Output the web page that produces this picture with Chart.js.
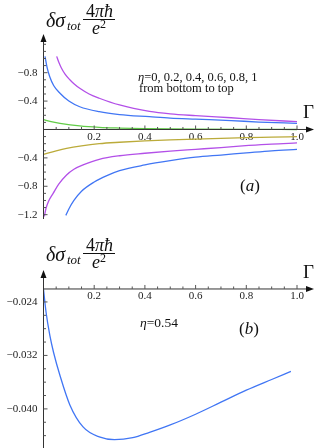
<!DOCTYPE html>
<html lang="en">
<head>
<meta charset="UTF-8">
<title>delta sigma tot vs Gamma</title>
<script src="https://cdn.jsdelivr.net/npm/chart.js"></script>
<style>
    body {
        margin: 0;
        background: #fff;
    }
    #wrap {
        position: relative;
        width: 316px;
        height: 448px;
        overflow: hidden;
        font-family: "Liberation Serif", serif;
        color: #111;
    }
    canvas {
        position: absolute;
        left: 0;
    }
    #chartA { top: 0; }
    #chartB { top: 235px; }
    .t {
        position: absolute;
        white-space: nowrap;
        line-height: 1;
    }
    .bar {
        position: absolute;
        height: 1px;
        background: #111;
    }
</style>
</head>
<body>
<div id="wrap">
    <canvas id="chartA" width="316" height="235"></canvas>
    <canvas id="chartB" width="316" height="227"></canvas>

    <!-- panel (a) labels -->
    <span class="t" style="left:46px; top:10px; font-size:20px; font-style:italic;">δσ</span>
    <span class="t" style="left:67px; top:19px; font-size:13px; font-style:italic;">tot</span>
    <span class="t" style="left:86px; top:2px; font-size:18px;">4<i>πħ</i></span>
    <div class="bar" style="left:83px; top:19px; width:32px;"></div>
    <span class="t" style="left:92px; top:18px; font-size:18px;"><i>e</i><span style="font-size:12px; vertical-align:6px;">2</span></span>
    <span class="t" style="left:138px; top:71px; font-size:12.5px;"><i>η</i>=0, 0.2, 0.4, 0.6, 0.8, 1</span>
    <span class="t" style="left:139px; top:82px; font-size:12.5px;">from bottom to top</span>
    <span class="t" style="left:303px; top:102px; font-size:19px;">Γ</span>
    <span class="t" style="left:240px; top:177px; font-size:17px;">(<i>a</i>)</span>

    <!-- panel (b) labels -->
    <span class="t" style="left:46px; top:244px; font-size:20px; font-style:italic;">δσ</span>
    <span class="t" style="left:67px; top:253px; font-size:13px; font-style:italic;">tot</span>
    <span class="t" style="left:86px; top:236px; font-size:18px;">4<i>πħ</i></span>
    <div class="bar" style="left:83px; top:253px; width:32px;"></div>
    <span class="t" style="left:92px; top:252px; font-size:18px;"><i>e</i><span style="font-size:12px; vertical-align:6px;">2</span></span>
    <span class="t" style="left:140px; top:316px; font-size:13.5px;"><i>η</i>=0.54</span>
    <span class="t" style="left:303px; top:262px; font-size:19px;">Γ</span>
    <span class="t" style="left:239px; top:320px; font-size:17px;">(<i>b</i>)</span>
</div>

<script>
    // ---- panel (a): six curves, eta = 0 .. 1 from bottom to top ----
    const gEta0 = [0.088, 0.1, 0.12, 0.15, 0.2, 0.25, 0.3, 0.4, 0.5, 0.6, 0.7, 0.8, 0.9, 1.0];
    const vEta0 = [-1.21, -1.12, -1.0, -0.87, -0.74, -0.65, -0.58, -0.50, -0.44, -0.39, -0.36, -0.33, -0.30, -0.28];

    const gEta02 = [0.003, 0.01, 0.02, 0.038, 0.06, 0.091, 0.12, 0.156, 0.22, 0.3, 0.4, 0.5, 0.6, 0.7, 0.81, 0.9, 1.0];
    const vEta02 = [-1.23, -1.11, -1.01, -0.90, -0.77, -0.64, -0.56, -0.50, -0.42, -0.37, -0.335, -0.305, -0.28, -0.255, -0.225, -0.205, -0.19];

    const gEta04 = [0, 0.05, 0.091, 0.15, 0.22, 0.3, 0.4, 0.5, 0.6, 0.7, 0.8, 0.9, 1.0];
    const vEta04 = [-0.35, -0.30, -0.265, -0.23, -0.20, -0.18, -0.16, -0.145, -0.135, -0.125, -0.115, -0.108, -0.10];

    const gEta06 = [0, 0.03, 0.065, 0.143, 0.22, 0.3, 0.4, 0.5, 0.6, 0.8, 1.0];
    const vEta06 = [0.14, 0.11, 0.087, 0.05, 0.03, 0.02, 0.012, 0.007, 0.004, 0.001, 0.0];

    const gEta08 = [0.006, 0.015, 0.025, 0.04, 0.065, 0.1, 0.143, 0.22, 0.3, 0.418, 0.5, 0.6, 0.74, 0.85, 1.0];
    const vEta08 = [1.03, 0.86, 0.74, 0.62, 0.51, 0.40, 0.32, 0.25, 0.21, 0.18, 0.16, 0.145, 0.125, 0.105, 0.087];

    const gEta1 = [0.052, 0.06, 0.07, 0.085, 0.104, 0.12, 0.143, 0.18, 0.22, 0.3, 0.418, 0.5, 0.6, 0.74, 0.85, 1.0];
    const vEta1 = [1.03, 0.95, 0.87, 0.78, 0.70, 0.645, 0.58, 0.50, 0.44, 0.345, 0.255, 0.22, 0.195, 0.165, 0.14, 0.11];

    // ---- panel (b): eta = 0.54 ----
    const gEta054 = [0, 0.01, 0.025, 0.04, 0.065, 0.104, 0.156, 0.22, 0.28, 0.352, 0.418, 0.5, 0.6, 0.7, 0.8, 0.9, 0.976];
    const vEta054 = [-0.0221, -0.0255, -0.0290, -0.0316, -0.0350, -0.0394, -0.0427, -0.0442, -0.0446, -0.0443, -0.0435, -0.0424, -0.0408, -0.0390, -0.0372, -0.0356, -0.0344];

    // tick labels
    const xTickVals = [0.2, 0.4, 0.6, 0.8, 1.0];
    const xTickLabels = ['0.2', '0.4', '0.6', '0.8', '1.0'];
    const yTickValsA = [-1.2, -0.8, -0.4, 0.4, 0.8];
    const yTickLabelsA = ['−1.2', '−0.8', '−0.4', '−0.4', '−0.8'];
    const yTickValsB = [-0.040, -0.032, -0.024];
    const yTickLabelsB = ['−0.040', '−0.032', '−0.024'];

    const BLUE = '#4176f4';
    const PURPLE = '#b350e8';
    const OLIVE = '#bbab3a';
    const GREEN = '#62cc48';

    function pts(g, v) {
        return g.map((x, i) => ({ x: x, y: v[i] }));
    }

    function line(g, v, color, clip) {
        return {
            data: pts(g, v),
            borderColor: color,
            borderWidth: 1.3,
            pointRadius: 0,
            fill: false,
            cubicInterpolationMode: 'monotone',
            clip: clip
        };
    }

    // panel (a) plot range is smaller than its axes: clip curves inside
    const clipA = { left: 0, top: -22, right: 0, bottom: -2.5 };

    // axes with arrows and inward ticks, drawn on the chart's own scales
    const axesPlugin = {
        id: 'axes',
        afterDatasetsDraw(chart, args, o) {
            const { ctx, chartArea: ca, scales: { x, y } } = chart;
            const x0 = x.getPixelForValue(0);
            const y0 = y.getPixelForValue(o.axisY);
            ctx.save();
            ctx.strokeStyle = '#333';
            ctx.fillStyle = '#111';
            ctx.lineWidth = 1;

            // y axis
            ctx.beginPath();
            ctx.moveTo(x0, ca.bottom);
            ctx.lineTo(x0, ca.top + 6);
            ctx.stroke();
            ctx.beginPath();
            ctx.moveTo(x0, ca.top);
            ctx.lineTo(x0 - 3, ca.top + 8);
            ctx.lineTo(x0 + 3, ca.top + 8);
            ctx.closePath();
            ctx.fill();

            // x axis
            ctx.beginPath();
            ctx.moveTo(x0, y0);
            ctx.lineTo(ca.right - 6, y0);
            ctx.stroke();
            ctx.beginPath();
            ctx.moveTo(ca.right, y0);
            ctx.lineTo(ca.right - 8, y0 - 3);
            ctx.lineTo(ca.right - 8, y0 + 3);
            ctx.closePath();
            ctx.fill();

            ctx.strokeStyle = '#555';
            // x ticks (minor every 0.05, major at labels)
            for (let k = 1; k <= 21; k++) {
                const v = k * 0.05;
                const px = x.getPixelForValue(v);
                if (px > ca.right - 8) break;
                const major = k % 4 === 0;
                ctx.beginPath();
                ctx.moveTo(px, y0);
                ctx.lineTo(px, y0 - (major ? 4 : 2.5));
                ctx.stroke();
            }
            // y ticks
            for (let k = o.yMinorFrom; k <= o.yMinorTo; k++) {
                const v = k * o.yMinorStep;
                const py = y.getPixelForValue(v);
                if (py < ca.top + 10 || py > ca.bottom) continue;
                if (Math.abs(py - y0) < 2) continue;
                const major = o.yMajor.some(m => Math.abs(m - v) < o.yMinorStep / 10);
                ctx.beginPath();
                ctx.moveTo(x0, py);
                ctx.lineTo(x0 + (major ? 4 : 2.5), py);
                ctx.stroke();
            }
            ctx.restore();
        }
    };

    function makeChart(id, datasets, yMin, yMax, axisY, yVals, yLabels, pad, axesOpts) {
        return new Chart(document.getElementById(id), {
            type: 'line',
            data: { datasets: datasets },
            plugins: [axesPlugin],
            options: {
                responsive: false,
                animation: false,
                devicePixelRatio: 1,
                layout: { padding: pad },
                plugins: {
                    legend: { display: false },
                    tooltip: { enabled: false },
                    axes: axesOpts
                },
                scales: {
                    x: {
                        type: 'linear',
                        min: 0,
                        max: 1.067,
                        position: { y: axisY },
                        grid: { display: false, drawTicks: false },
                        border: { display: false },
                        afterBuildTicks: (s) => { s.ticks = xTickVals.map(v => ({ value: v })); },
                        ticks: {
                            autoSkip: false,
                            maxRotation: 0,
                            padding: 1,
                            color: '#222',
                            font: { family: 'Liberation Serif', size: 11 },
                            callback: (v) => {
                                const i = xTickVals.indexOf(v);
                                return i >= 0 ? xTickLabels[i] : '';
                            }
                        }
                    },
                    y: {
                        type: 'linear',
                        min: yMin,
                        max: yMax,
                        position: 'left',
                        grid: { display: false, drawTicks: false },
                        border: { display: false },
                        afterFit: (s) => { s.width = 43.5; },
                        afterBuildTicks: (s) => { s.ticks = yVals.map(v => ({ value: v })); },
                        ticks: {
                            autoSkip: false,
                            padding: 6,
                            color: '#222',
                            font: { family: 'Liberation Serif', size: 11 },
                            callback: (v) => {
                                const i = yVals.indexOf(v);
                                return i >= 0 ? yLabels[i] : '';
                            }
                        }
                    }
                }
            }
        });
    }

    makeChart('chartA', [
        line(gEta0, vEta0, BLUE, clipA),
        line(gEta02, vEta02, PURPLE, clipA),
        line(gEta04, vEta04, OLIVE, clipA),
        line(gEta06, vEta06, GREEN, clipA),
        line(gEta08, vEta08, BLUE, clipA),
        line(gEta1, vEta1, PURPLE, clipA)
    ], -1.261, 1.345, 0, yTickValsA, yTickLabelsA,
        { top: 34, right: 2, bottom: 16, left: 0 },
        { axisY: 0, yMinorStep: 0.1, yMinorFrom: -12, yMinorTo: 13, yMajor: yTickValsA });

    makeChart('chartB', [
        line(gEta054, vEta054, BLUE, 0)
    ], -0.04606, -0.01922, -0.02206, yTickValsB, yTickLabelsB,
        { top: 35, right: 2, bottom: 0, left: 0 },
        { axisY: -0.02206, yMinorStep: 0.002, yMinorFrom: -23, yMinorTo: -10, yMajor: yTickValsB });
</script>
</body>
</html>
